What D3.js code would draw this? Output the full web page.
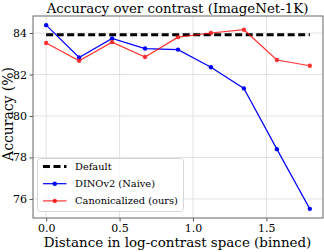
<!DOCTYPE html>
<html>
<head>
<meta charset="utf-8">
<script src="https://cdn.jsdelivr.net/npm/d3@7"></script>
<style>
  body { margin: 0; background: #fff; }
  text { font-family: "DejaVu Serif", serif; fill: #000; }
</style>
</head>
<body>
<div id="chart-area"></div>
<script>
// binned distance in log-contrast space
const distances = [0.0, 0.2245, 0.449, 0.6735, 0.898, 1.1225, 1.347, 1.5715, 1.796]
const naive = [84.38, 82.82, 83.74, 83.25, 83.2, 82.35, 81.33, 78.4, 75.52]
const canon = [83.52, 82.66, 83.56, 82.84, 83.8, 84.0, 84.16, 82.7, 82.42]
const defaultAcc = 83.92
const xTicks = [0.0, 0.5, 1.0, 1.5]
const yTicks = [76, 78, 80, 82, 84]

const width = 324, height = 252
const margin = {top: 16, right: 1, bottom: 34, left: 33}

// scale a text's font so it spans the given width (no Computer Modern here)
function fitWidth(sel, target) {
  const w = sel.node().getComputedTextLength()
  sel.attr("font-size", +sel.attr("font-size") * target / w)
  return +sel.attr("font-size")
}

const svg = d3.select("#chart-area").append("svg")
  .attr("width", width)
  .attr("height", height)

const x = d3.scaleLinear()
  .domain([-0.0898, 1.8858])
  .range([margin.left, width - margin.right])

const y = d3.scaleLinear()
  .domain([75.08, 84.82])
  .range([height - margin.bottom, margin.top])

// grid
svg.append("g")
  .selectAll("line")
  .data(xTicks)
  .enter().append("line")
  .attr("x1", d => x(d)).attr("x2", d => x(d))
  .attr("y1", margin.top).attr("y2", height - margin.bottom)
  .attr("stroke", "#dcdcdc").attr("stroke-width", 0.8)

svg.append("g")
  .selectAll("line")
  .data(yTicks)
  .enter().append("line")
  .attr("x1", margin.left).attr("x2", width - margin.right)
  .attr("y1", d => y(d)).attr("y2", d => y(d))
  .attr("stroke", "#dcdcdc").attr("stroke-width", 0.8)

// axes
const xAxis = svg.append("g")
  .attr("transform", `translate(0,${height - margin.bottom})`)
  .call(d3.axisBottom(x).tickValues(xTicks).tickFormat(d3.format(".1f")).tickSize(3.5).tickSizeOuter(0))
const yAxis = svg.append("g")
  .attr("transform", `translate(${margin.left},0)`)
  .call(d3.axisLeft(y).tickValues(yTicks).tickFormat(d3.format("d")).tickSize(3.5).tickSizeOuter(0))

;[xAxis, yAxis].forEach(ax => {
  ax.select(".domain").remove()
  ax.selectAll(".tick line").attr("stroke", "#555")
  ax.selectAll(".tick text").attr("font-size", 11).attr("font-family", "DejaVu Serif")
})
xAxis.selectAll(".tick text").attr("y", 14).attr("dy", 0)
yAxis.selectAll(".tick text").attr("x", -6)

// frame
svg.append("rect")
  .attr("x", margin.left).attr("y", margin.top)
  .attr("width", width - margin.left - margin.right)
  .attr("height", height - margin.top - margin.bottom)
  .attr("fill", "none").attr("stroke", "#666").attr("stroke-width", 1)

// default
svg.append("line")
  .attr("x1", x(distances[0])).attr("x2", x(distances[distances.length - 1]))
  .attr("y1", y(defaultAcc)).attr("y2", y(defaultAcc))
  .attr("stroke", "#000").attr("stroke-width", 3)
  .attr("stroke-dasharray", "7,3.5")

const line = d3.line()
  .x((d, i) => x(distances[i]))
  .y(d => y(d))

const series = [
  {name: "DINOv2 (Naive)", values: naive, color: "blue", opacity: 1},
  {name: "Canonicalized (ours)", values: canon, color: "red", opacity: 0.8}
]

series.forEach(s => {
  const g = svg.append("g").attr("opacity", s.opacity)
  g.append("path")
    .datum(s.values)
    .attr("d", line)
    .attr("fill", "none")
    .attr("stroke", s.color)
    .attr("stroke-width", 1.2)
  g.selectAll("circle")
    .data(s.values)
    .enter().append("circle")
    .attr("cx", (d, i) => x(distances[i]))
    .attr("cy", d => y(d))
    .attr("r", 2.2)
    .attr("fill", s.color)
})

// legend
const lg = svg.append("g").attr("transform", "translate(37.5,158.5)")
lg.append("rect")
  .attr("width", 146).attr("height", 53).attr("rx", 3)
  .attr("fill", "#fff").attr("fill-opacity", 0.8)
  .attr("stroke", "#ccc").attr("stroke-width", 0.8)

const legendItems = [
  {name: "Default", color: "#000", dash: "7,3.5", width: 3, dot: false, opacity: 1},
  {name: series[0].name, color: series[0].color, dash: null, width: 1.2, dot: true, opacity: 1},
  {name: series[1].name, color: series[1].color, dash: null, width: 1.2, dot: true, opacity: 0.8}
]

const legendTexts = []
legendItems.forEach((it, i) => {
  const row = lg.append("g").attr("transform", `translate(0,${8 + i * 17.2})`)
  row.append("line")
    .attr("x1", 5.5).attr("x2", 29)
    .attr("stroke", it.color).attr("stroke-width", it.width)
    .attr("stroke-opacity", it.opacity)
    .attr("stroke-dasharray", it.dash)
  if (it.dot) {
    row.append("circle").attr("cx", 17.25).attr("r", 2.2).attr("fill", it.color).attr("fill-opacity", it.opacity)
  }
  legendTexts.push(row.append("text")
    .attr("x", 37.5).attr("dy", "0.35em")
    .attr("font-size", 11)
    .text(it.name))
})
const legendSize = fitWidth(legendTexts[2], 103)
legendTexts.forEach(t => t.attr("font-size", legendSize))

// labels
const title = svg.append("text")
  .attr("x", 177.5)
  .attr("y", 12.7)
  .attr("text-anchor", "middle")
  .attr("font-size", 13)
  .text("Accuracy over contrast (ImageNet-1K)")
fitWidth(title, 262)

const xLabel = svg.append("text")
  .attr("x", 177.5)
  .attr("y", 247)
  .attr("text-anchor", "middle")
  .attr("font-size", 13)
  .text("Distance in log-contrast space (binned)")
fitWidth(xLabel, 268)

const yLabel = svg.append("text")
  .attr("transform", "translate(12.5,114) rotate(-90)")
  .attr("text-anchor", "middle")
  .attr("font-size", 13)
  .text("Accuracy (%)")
fitWidth(yLabel, 94)
</script>
</body>
</html>
